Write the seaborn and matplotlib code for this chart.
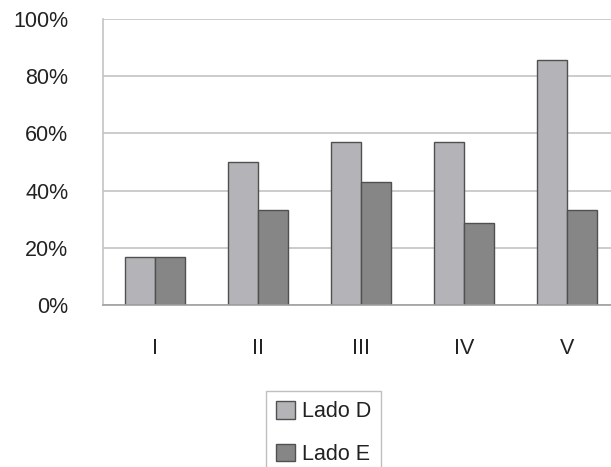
import numpy as np
import pandas as pd
import matplotlib
matplotlib.use("Agg")
import matplotlib.pyplot as plt
import seaborn as sns
from matplotlib.patches import Patch
from matplotlib.ticker import PercentFormatter

# ── Data ──────────────────────────────────────────────────────────────────────
CATEGORIES = ["I", "II", "III", "IV", "V"]
LADO_D = [16.7, 50.0, 57.1, 57.1, 85.7]
LADO_E = [16.7, 33.3, 42.9, 28.6, 33.3]
SERIES = ["Lado D", "Lado E"]
Y_TICKS = [0, 20, 40, 60, 80, 100]

COLORS = ["#b4b4b8", "#868686"]
EDGE = "#505050"
GRID = "#c4c4c4"
FS = 15.5

df = pd.DataFrame({
    "grupo": CATEGORIES * 2,
    "lado": [SERIES[0]] * len(CATEGORIES) + [SERIES[1]] * len(CATEGORIES),
    "valor": LADO_D + LADO_E,
})

sns.set_theme(style="white")
plt.rcParams["font.family"] = ["Liberation Sans", "DejaVu Sans"]

fig = plt.figure(figsize=(6.11, 4.67), dpi=100)
ax = fig.add_axes([103 / 611, 162 / 467, 516 / 611, 286 / 467])

sns.barplot(data=df, x="grupo", y="valor", hue="lado", order=CATEGORIES,
            hue_order=SERIES, palette=COLORS, width=0.58, edgecolor=EDGE,
            linewidth=1.0, saturation=1, legend=False, ax=ax)

ax.set_xlim(-0.5, len(CATEGORIES) - 0.5)
ax.set_ylim(0, 100)
ax.set_yticks(Y_TICKS)
ax.yaxis.set_major_formatter(PercentFormatter(decimals=0))
ax.set_xlabel("")
ax.set_ylabel("")

# grid lines, drawn behind the bars
ax.set_axisbelow(True)
ax.yaxis.grid(True, color=GRID, linewidth=1.2)
ax.xaxis.grid(False)

for side in ["top", "right"]:
    ax.spines[side].set_visible(False)
ax.spines["left"].set_color(GRID)
ax.spines["left"].set_linewidth(1.2)
ax.spines["bottom"].set_color("#a0a0a0")
ax.spines["bottom"].set_linewidth(1.2)

# category boundary ticks on the x axis, labels centred in between
ax.set_xticks(np.arange(-0.5, len(CATEGORIES), 1.0), minor=True)
ax.set_xticks(range(len(CATEGORIES)))
ax.set_xticklabels(CATEGORIES)
ax.tick_params(axis="x", which="major", length=0, pad=24, labelsize=FS,
               labelcolor="#222222")
ax.tick_params(axis="x", which="minor", length=6, width=1, color="#a0a0a0",
               direction="out")
ax.tick_params(axis="y", length=7, width=1.2, color=GRID, pad=18,
               labelsize=FS, labelcolor="#222222")

handles = [Patch(facecolor=c, edgecolor=EDGE, linewidth=1.0) for c in COLORS]
leg = fig.legend(handles, SERIES, loc="upper left",
                 bbox_to_anchor=(266 / 611, 1 - 391 / 467),
                 fontsize=FS, frameon=True, fancybox=False,
                 borderpad=0.45, labelspacing=1.0, handlelength=0.9,
                 handleheight=0.9, handletextpad=0.33, borderaxespad=0)
leg.get_frame().set_edgecolor("#b0b0b0")
leg.get_frame().set_linewidth(1.0)
for t in leg.get_texts():
    t.set_color("#222222")

plt.savefig("out.png", dpi=100)
plt.close()
